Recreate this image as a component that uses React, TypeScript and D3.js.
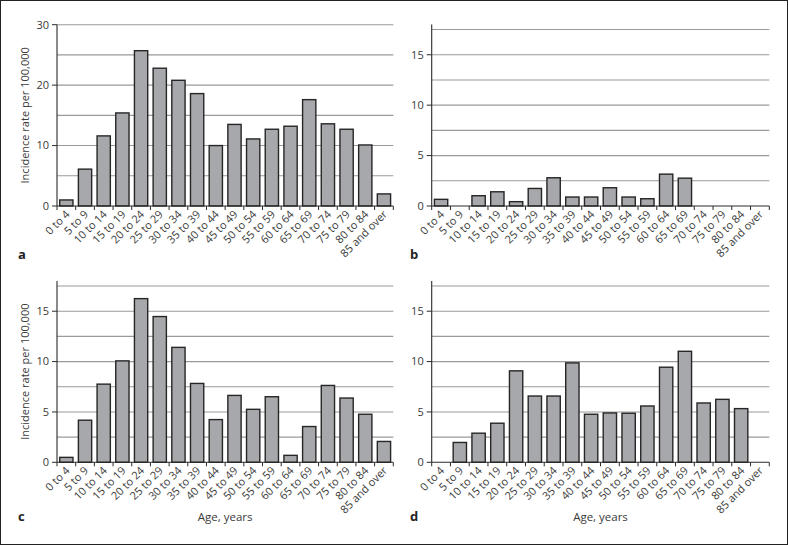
import React from "react";
import * as d3 from "d3";

const categories = [
  "0 to 4", "5 to 9", "10 to 14", "15 to 19", "20 to 24", "25 to 29",
  "30 to 34", "35 to 39", "40 to 44", "45 to 49", "50 to 54", "55 to 59",
  "60 to 64", "65 to 69", "70 to 74", "75 to 79", "80 to 84", "85 and over",
];

const seriesA = [1.0, 6.1, 11.6, 15.4, 25.7, 22.8, 20.8, 18.6, 10.0, 13.5, 11.1, 12.7, 13.2, 17.6, 13.6, 12.7, 10.1, 2.0];
const seriesB = [0.66, 0, 1.02, 1.41, 0.43, 1.74, 2.8, 0.89, 0.89, 1.81, 0.89, 0.72, 3.16, 2.76, 0, 0, 0, 0];
const seriesC = [0.49, 4.18, 7.76, 10.07, 16.25, 14.47, 11.41, 7.83, 4.24, 6.64, 5.26, 6.51, 0.69, 3.55, 7.63, 6.38, 4.77, 2.07];
const seriesD = [0, 1.97, 2.89, 3.88, 9.08, 6.58, 6.58, 9.87, 4.77, 4.9, 4.87, 5.59, 9.44, 11.02, 5.89, 6.25, 5.33, 0];

const ticksA = [0, 10, 20, 30];
const ticksSmall = [0, 5, 10, 15];
const gridA = [5, 10, 15, 20, 25, 30];
const gridSmall = [2.5, 5, 7.5, 10, 12.5, 15, 17.5];

const yTitle = "Incidence rate per 100,000";
const xTitle = "Age, years";

const FONT = "'Open Sans', 'DejaVu Sans', sans-serif";
const TEXT = "#3a3a3a";

type PanelCfg = {
  letter: string;
  values: number[];
  x0: number; x1: number; yBase: number; yTop: number;
  max: number; ticks: number[]; grid: number[];
  showYTitle: boolean; showXTitle: boolean;
  letterX: number; letterY: number;
};

const panels: PanelCfg[] = [
  { letter: "a", values: seriesA, x0: 57, x1: 393.3, yBase: 206, yTop: 24.7, max: 30, ticks: ticksA, grid: gridA, showYTitle: true, showXTitle: false, letterX: 18, letterY: 259 },
  { letter: "b", values: seriesB, x0: 431.7, x1: 769.3, yBase: 206, yTop: 24.5, max: 18, ticks: ticksSmall, grid: gridSmall, showYTitle: false, showXTitle: false, letterX: 410, letterY: 259 },
  { letter: "c", values: seriesC, x0: 57, x1: 393.3, yBase: 462.3, yTop: 281, max: 18, ticks: ticksSmall, grid: gridSmall, showYTitle: true, showXTitle: true, letterX: 18, letterY: 521 },
  { letter: "d", values: seriesD, x0: 431.7, x1: 769.3, yBase: 462.3, yTop: 281, max: 18, ticks: ticksSmall, grid: gridSmall, showYTitle: false, showXTitle: true, letterX: 410, letterY: 521 },
];

function Panel({ p }: { p: PanelCfg }) {
  const x = d3.scaleBand<string>().domain(categories).range([p.x0, p.x1]).padding(0);
  const y = d3.scaleLinear().domain([0, p.max]).range([p.yBase, p.yTop]);
  const bw = x.bandwidth() * 0.71;
  const boundaries = categories.map((c) => x(c) as number).concat([p.x1]);
  return (
    <g>
      {p.grid.map((g) => (
        <line key={"g" + g} x1={p.x0} x2={p.x1} y1={y(g)} y2={y(g)} stroke="#9a9a9a" strokeWidth={1.1} />
      ))}
      {p.values.map((v, i) =>
        v > 0 ? (
          <rect
            key={"b" + i}
            x={(x(categories[i]) as number) + (x.bandwidth() - bw) / 2}
            y={y(v)}
            width={bw}
            height={p.yBase - y(v)}
            fill="#a7a8ab"
            stroke="#262626"
            strokeWidth={1.4}
          />
        ) : null
      )}
      <line x1={p.x0} x2={p.x0} y1={p.yTop} y2={p.yBase} stroke="#2a2a2a" strokeWidth={1.1} />
      <line x1={p.x0} x2={p.x1} y1={p.yBase} y2={p.yBase} stroke="#2a2a2a" strokeWidth={1.1} />
      {boundaries.map((bx, i) => (
        <line key={"t" + i} x1={bx} x2={bx} y1={p.yBase} y2={p.yBase + 4} stroke="#2a2a2a" strokeWidth={1} />
      ))}
      {p.ticks.map((t) => (
        <g key={"yt" + t}>
          <line x1={p.x0 - 5} x2={p.x0} y1={y(t)} y2={y(t)} stroke="#2a2a2a" strokeWidth={1} />
          <text x={p.x0 - 8} y={y(t)} dy="0.35em" textAnchor="end" fontSize={11} fill={TEXT} fontFamily={FONT}>
            {t}
          </text>
        </g>
      ))}
      {categories.map((c) => {
        const cx = (x(c) as number) + x.bandwidth() / 2;
        return (
          <text
            key={"xl" + c}
            transform={`translate(${cx + 4},${p.yBase + 9}) rotate(-45)`}
            textAnchor="end"
            fontSize={11}
            fill={TEXT}
            fontFamily={FONT}
          >
            {c}
          </text>
        );
      })}
      {p.showYTitle && (
        <text
          transform={`translate(29,${(p.yTop + p.yBase) / 2}) rotate(-90)`}
          textAnchor="middle"
          fontSize={11}
          fill={TEXT}
          fontFamily={FONT}
        >
          {yTitle}
        </text>
      )}
      {p.showXTitle && (
        <text x={(p.x0 + p.x1) / 2} y={521} textAnchor="middle" fontSize={11.5} fill={TEXT} fontFamily={FONT}>
          {xTitle}
        </text>
      )}
      <text x={p.letterX} y={p.letterY} fontSize={13} fontWeight="bold" fill="#222" fontFamily={FONT}>
        {p.letter}
      </text>
    </g>
  );
}

export default function App() {
  return (
    <svg
      width={788}
      height={545}
      style={{ position: "absolute", left: 0, top: 0, background: "#fff" }}
    >
      <rect x={0.5} y={0.5} width={787} height={544} fill="#fff" stroke="#222" strokeWidth={1} />
      {panels.map((p) => (
        <Panel key={p.letter} p={p} />
      ))}
    </svg>
  );
}
